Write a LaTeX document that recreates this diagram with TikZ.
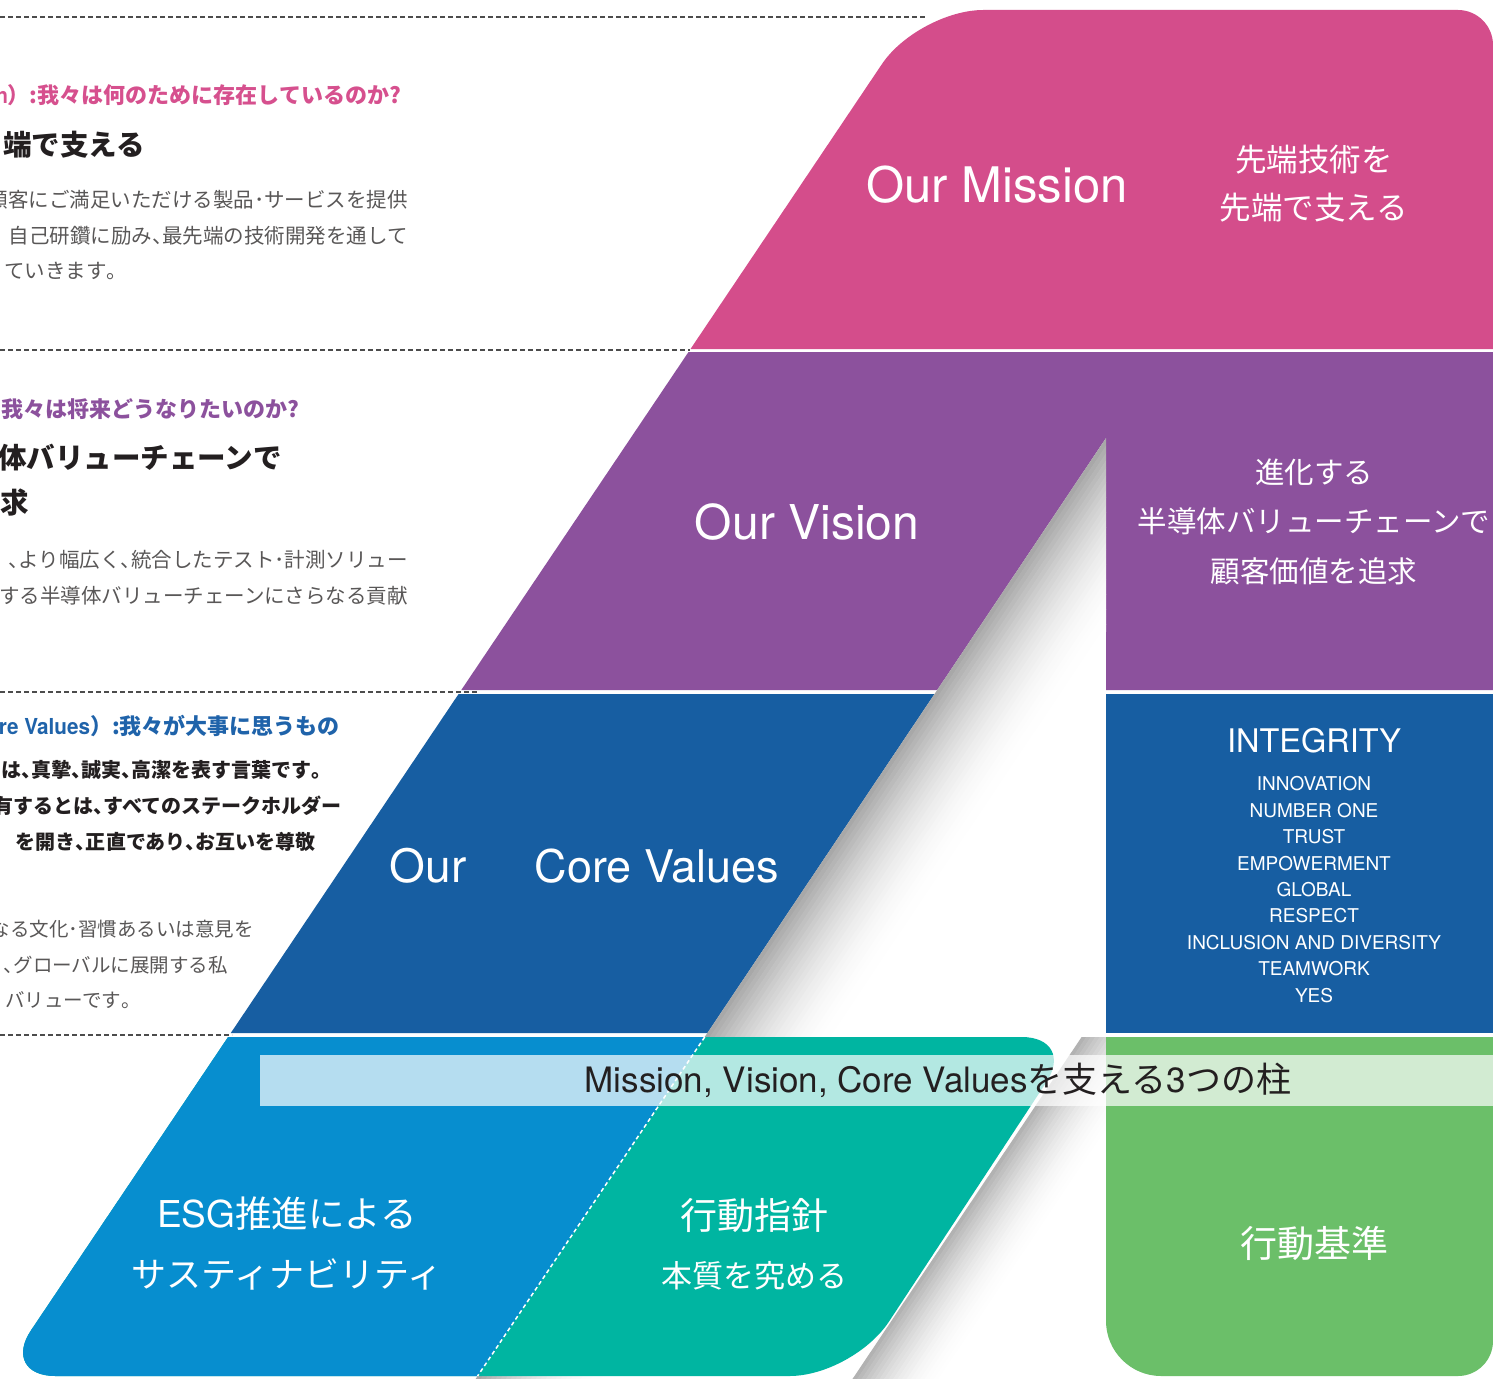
\documentclass[tikz,border=0pt]{standalone}
\usepackage{fontspec}
\usepackage{graphicx}
\setmainfont{TeX Gyre Heros}
\newfontfamily\lat{TeX Gyre Heros}
\newfontfamily\jp{Noto Sans CJK JP}
\newfontfamily\jpp[RawFeature=+palt]{Noto Sans CJK JP}
\newcommand\myfs[2]{\fontsize{#1}{#2}\selectfont}
\newcommand\tc{{\jpp 、}}
\newcommand\tm{{\jpp 。}}
\definecolor{pinkC}{HTML}{D44D8B}
\definecolor{purpleC}{HTML}{8C519D}
\definecolor{coreC}{HTML}{175EA2}
\definecolor{skyC}{HTML}{078ECF}
\definecolor{tealC}{HTML}{00B5A1}
\definecolor{greenC}{HTML}{6BBF69}
\definecolor{textdark}{HTML}{231F20}
\definecolor{textgrey}{HTML}{595757}
\definecolor{headpink}{HTML}{D6508E}
\definecolor{headpurple}{HTML}{8C519D}
\definecolor{headblue}{HTML}{1F63AA}
\begin{document}
\begin{tikzpicture}[x=1pt,y=-1pt,
  dashline/.style={draw=black!70, line width=1.1pt, dash pattern=on 5pt off 3pt},
  wtxt/.style={text=white, inner sep=0pt, align=center},
  lefttxt/.style={anchor=east, inner sep=0pt},
  headtxt/.style={lefttxt, font=\jp\bfseries\myfs{22}{26}},
  bigtxt/.style={lefttxt, text=textdark, font=\jp\bfseries\myfs{28.5}{34}},
  bodytxt/.style={lefttxt, text=textgrey, font=\jp\myfs{20.5}{24}},
  smallbody/.style={lefttxt, text=textgrey, font=\jp\myfs{19.5}{24}},
  boldbody/.style={lefttxt, text=textdark, font=\jp\bfseries\myfs{20}{24}}
]
\useasboundingbox (0,0) rectangle (1493,1378);
\clip (0,0) rectangle (1493,1378);
\fill[white] (0,0) rectangle (1493,1378);

% dashed separators
\draw[dashline] (0,17) -- (925,17);
\draw[dashline] (0,350) -- (690,350);
\draw[dashline] (0,692) -- (478,692);
\draw[dashline] (0,1035) -- (232,1035);

% Mission band
\fill[pinkC] (690.5,349) -- (882.03,63.95) .. controls (901.98,34.28) and (947.55,10) .. (983.3,10)
  -- (1458,10) .. controls (1477.25,10) and (1493,25.75) .. (1493,45) -- (1493,349) -- cycle;

% Vision band
\fill[purpleC] (688.5,352) -- (1493,352) -- (1493,690) -- (1106,690) -- (1106,438)
  -- (937.2,690) -- (461.3,690) -- cycle;

% Core values band
\fill[coreC] (458.6,694) -- (934.5,694) -- (707.4,1033) -- (230.8,1033) -- cycle;
\fill[coreC] (1106,694) rectangle (1493,1033);

% shadow along inner slanted edge
\begin{scope}
  \clip (1106,438) -- (1106,1380) -- (474.9,1380) -- cycle;
  \foreach \i in {0,...,25}{
    \pgfmathsetmacro\k{34*(1-\i/26)^2}
    \pgfmathsetmacro\da{\i*5}
    \pgfmathsetmacro\db{\i*5+5.6}
    \fill[black!\k] (1111.4+\da,430) -- (474.9+\da,1380) -- (474.9+\db,1380) -- (1111.4+\db,430) -- cycle;
  }
\end{scope}
% shadow right of the teal block
\begin{scope}
  \clip (700,1037) rectangle (1106,1380);
  \foreach \i in {0,...,19}{
    \pgfmathsetmacro\k{30*(1-\i/20)^2}
    \pgfmathsetmacro\da{\i*4.5}
    \pgfmathsetmacro\db{\i*4.5+5}
    \fill[black!\k] (1086.3+\da,1030) -- (851.8+\da,1380) -- (851.8+\db,1380) -- (1086.3+\db,1030) -- cycle;
  }
\end{scope}

% bottom block (teal + sky blue)
\fill[tealC] (228.1,1037) -- (1021.6,1037) .. controls (1051.85,1037) and (1062.83,1057.56) .. (1046.0,1082.7)
  -- (888.68,1322.0) .. controls (868.78,1351.7) and (825.25,1376) .. (789.5,1376)
  -- (55.3,1376) .. controls (25.05,1376) and (14.11,1355.45) .. (30.99,1330.35) -- cycle;
\begin{scope}
  \clip (228.1,1037) -- (1021.6,1037) .. controls (1051.85,1037) and (1062.83,1057.56) .. (1046.0,1082.7)
    -- (888.68,1322.0) .. controls (868.78,1351.7) and (825.25,1376) .. (789.5,1376)
    -- (55.3,1376) .. controls (25.05,1376) and (14.11,1355.45) .. (30.99,1330.35) -- cycle;
  \fill[skyC] (-10,1030) -- (709.4,1030) -- (468.2,1390) -- (-10,1390) -- cycle;
\end{scope}
\draw[white, line width=1.5pt, dash pattern=on 4pt off 3pt] (704.7,1037) -- (477.6,1376);

% green column
\fill[greenC] (1106,1037) -- (1106,1321) .. controls (1106,1351.25) and (1130.75,1376) .. (1161,1376)
  -- (1458,1376) .. controls (1477.25,1376) and (1493,1360.25) .. (1493,1341) -- (1493,1037) -- cycle;

% banner
\fill[white, fill opacity=0.7] (260,1055) rectangle (1493,1106);

% texts in the shapes
\node[wtxt, font=\lat\myfs{49}{58}] (mission) at (997,185) {Our Mission};
\node[wtxt, font=\jp\myfs{31.5}{48}] (missiontxt) at (1314,184) {先端技術を\\先端で支える};
\node[wtxt, font=\lat\myfs{48}{58}] (vision) at (807,522) {Our Vision};
\node[wtxt, font=\jp\myfs{29.5}{49.5}] (visiontxt) at (1314,521.5) {進化する\\半導体バリューチェーンで\\顧客価値を追求};
\node[wtxt, font=\lat\myfs{46}{56}] (our) at (428,866) {Our};
\node[wtxt, font=\lat\myfs{45}{56}] (core) at (657,866) {Core Values};
\node[wtxt, font=\lat\myfs{32.5}{40}] (integrity) at (1314,741) {INTEGRITY};
\node[wtxt, font=\lat\myfs{19}{26.4}] (values) at (1314,889.5) {INNOVATION\\NUMBER ONE\\TRUST\\EMPOWERMENT\\GLOBAL\\RESPECT\\INCLUSION AND DIVERSITY\\TEAMWORK\\YES};
\node[wtxt, font=\myfs{35}{60}] (esg) at (287,1243) {{\lat\myfs{37}{60}ESG}{\jp\myfs{36.5}{60}推進による}\\{\jp サスティナビリティ}};
\node[wtxt, font=\jp\myfs{37}{44}] (guide) at (754,1215) {行動指針};
\node[wtxt, font=\jp\myfs{31}{40}] (essence) at (754,1276) {本質を究める};
\node[wtxt, font=\jp\myfs{37}{44}] (standard) at (1314,1243) {行動基準};
\node[inner sep=0pt, text=textdark, font=\myfs{35}{42}] (pillars) at (938,1080) {{\lat Mission, Vision, Core Values}{\jp を支える}{\lat 3}{\jp つの柱}};

% left explanatory texts
\node[headtxt, text=headpink] (mh) at (401,95) {{\lat\scalebox{0.9}[1]{n}}）:我々は何のために存在しているのか?};
\node[bigtxt] (mt) at (145,145) {端で支える};
\node[bodytxt] (mb1) at (408,200) {顧客にご満足いただける製品･サービスを提供};
\node[bodytxt] (mb2) at (408,236) {自己研鑽に励み\tc 最先端の技術開発を通して};
\node[bodytxt] (mb3) at (117,271) {ていきます\tm};

\node[headtxt, text=headpurple] (vh) at (299,409) {我々は将来どうなりたいのか?};
\node[bigtxt] (vt1) at (282,458) {体バリューチェーンで};
\node[bigtxt] (vt2) at (29,503) {求};
\node[bodytxt] (vb1) at (408,560) {\tc より幅広く\tc 統合したテスト･計測ソリュー};
\node[bodytxt] (vb2) at (408,596) {する半導体バリューチェーンにさらなる貢献};

\node[headtxt, text=headblue] (ch) at (340,726) {{\lat\scalebox{0.94}[1]{re Values}}）:我々が大事に思うもの};
\node[boldbody] (cb1) at (322,770) {は\tc 真摯\tc 誠実\tc 高潔を表す言葉です\tm};
\node[boldbody] (cb2) at (342,806) {有するとは\tc すべてのステークホルダー};
\node[boldbody] (cb3) at (316,842) {を開き\tc 正直であり\tc お互いを尊敬};
\node[smallbody] (cb4) at (254,929) {なる文化･習慣あるいは意見を};
\node[smallbody] (cb5) at (228,965) {\tc グローバルに展開する私};
\node[smallbody] (cb6) at (131,1000) {バリューです\tm};
\end{tikzpicture}
\end{document}
